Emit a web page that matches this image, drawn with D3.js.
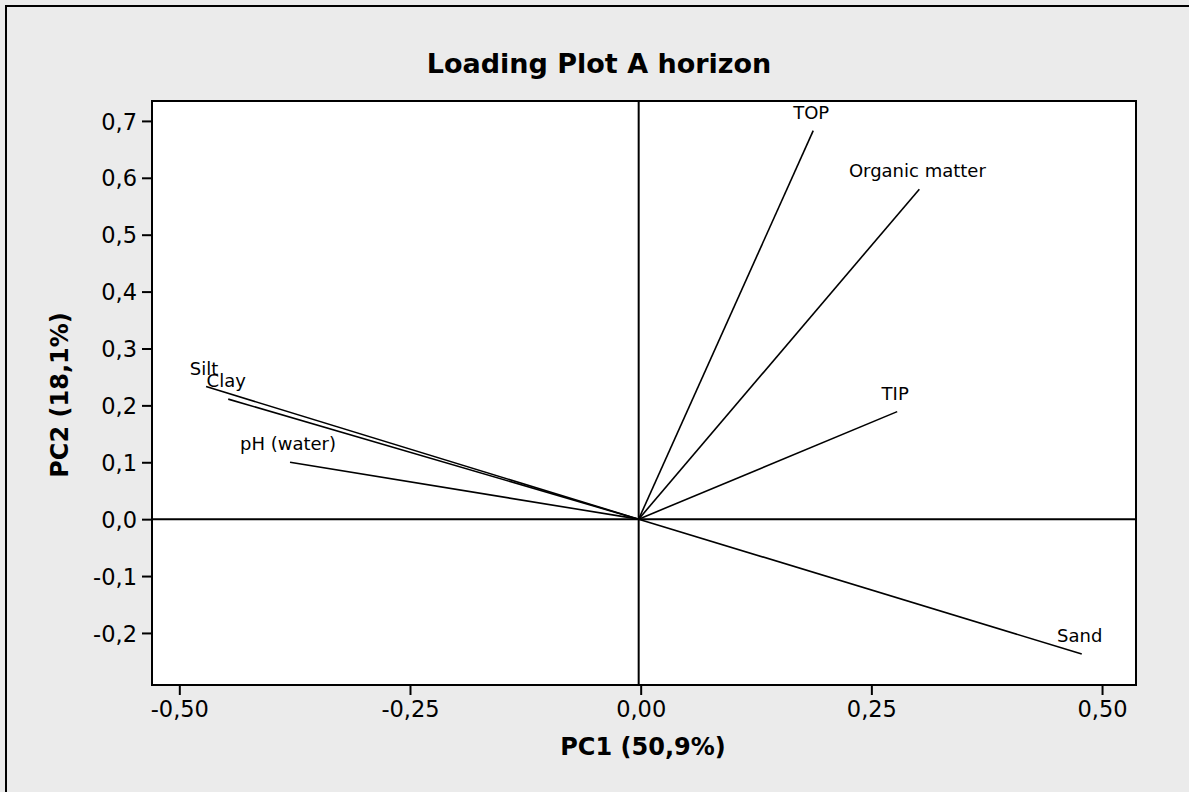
<!DOCTYPE html>
<html>
<head>
<meta charset="utf-8">
<script src="https://cdn.jsdelivr.net/npm/d3@7"></script>
<style>
  html, body { margin: 0; padding: 0; background: #ebebeb; }
  svg { display: block; }
  text { font-family: "DejaVu Sans", Verdana, sans-serif; fill: #000; }
</style>
</head>
<body>
<svg id="chart" width="1189" height="792"></svg>
<script>
// ---- data ----
const variables = ["TOP", "Organic matter", "TIP", "Sand", "Silt", "Clay", "pH (water)"];
const pc1 = [0.187, 0.302, 0.278, 0.478, -0.471, -0.447, -0.380];
const pc2 = [0.683, 0.580, 0.189, -0.237, 0.233, 0.211, 0.100];
const xTicks = [-0.50, -0.25, 0.00, 0.25, 0.50];
const yTicks = [-0.2, -0.1, 0.0, 0.1, 0.2, 0.3, 0.4, 0.5, 0.6, 0.7];
const title = "Loading Plot A horizon";
const xTitle = "PC1 (50,9%)";
const yTitle = "PC2 (18,1%)";

// ---- layout ----
const svg = d3.select("#chart");
const W = 1189, H = 792;
const plot = { left: 152, top: 101, right: 1136, bottom: 685 };

// outer frame (only left & top visible in reference)
svg.append("rect").attr("x", 6).attr("y", 6).attr("width", W + 20).attr("height", H + 20)
  .attr("fill", "#ebebeb").attr("stroke", "#000").attr("stroke-width", 2);

const x = d3.scaleLinear().domain([-0.5296, 0.5368]).range([plot.left, plot.right]);
const y = d3.scaleLinear().domain([-0.2915, 0.735]).range([plot.bottom, plot.top]);

// plot background
svg.append("rect").attr("x", plot.left).attr("y", plot.top)
  .attr("width", plot.right - plot.left).attr("height", plot.bottom - plot.top)
  .attr("fill", "#fff");

// zero reference lines
svg.append("line").attr("x1", plot.left).attr("x2", plot.right)
  .attr("y1", y(0)).attr("y2", y(0)).attr("stroke", "#000").attr("stroke-width", 2);
svg.append("line").attr("x1", x(0) - 2).attr("x2", x(0) - 2)
  .attr("y1", plot.top).attr("y2", plot.bottom).attr("stroke", "#000").attr("stroke-width", 2);

// loading vectors
const data = variables.map((v, i) => ({ name: v, a: pc1[i], b: pc2[i] }));
svg.append("g").selectAll("line").data(data).join("line")
  .attr("x1", x(0) - 2).attr("y1", y(0))
  .attr("x2", d => x(d.a)).attr("y2", d => y(d.b))
  .attr("stroke", "#000").attr("stroke-width", 1.6);

svg.append("g").selectAll("text").data(data).join("text")
  .attr("x", d => x(d.a) - 2).attr("y", d => y(d.b) - 12)
  .attr("text-anchor", "middle").attr("font-size", 18)
  .text(d => d.name);

// axes
const fmtX = d => d.toFixed(2).replace(".", ",");
const fmtY = d => d.toFixed(1).replace(".", ",");

const gx = svg.append("g").attr("transform", `translate(0,${plot.bottom})`)
  .call(d3.axisBottom(x).tickValues(xTicks).tickFormat(fmtX).tickSize(10).tickPadding(6));
const gy = svg.append("g").attr("transform", `translate(${plot.left},0)`)
  .call(d3.axisLeft(y).tickValues(yTicks).tickFormat(fmtY).tickSize(10).tickPadding(5));
[gx, gy].forEach(g => {
  g.select(".domain").remove();
  g.selectAll(".tick line").attr("stroke", "#000").attr("stroke-width", 2);
  g.selectAll(".tick text").attr("font-size", 22.5)
    .attr("font-family", "DejaVu Sans, Verdana, sans-serif").attr("fill", "#000");
});
gy.selectAll(".tick text").attr("dy", "0.36em");

// plot frame
svg.append("rect").attr("x", plot.left).attr("y", plot.top)
  .attr("width", plot.right - plot.left).attr("height", plot.bottom - plot.top)
  .attr("fill", "none").attr("stroke", "#000").attr("stroke-width", 2);

// titles
svg.append("text").attr("x", 599).attr("y", 73).attr("text-anchor", "middle")
  .attr("font-size", 27).attr("font-weight", "bold").text(title);
svg.append("text").attr("x", 643).attr("y", 755).attr("text-anchor", "middle")
  .attr("font-size", 24).attr("font-weight", "bold").text(xTitle);
svg.append("text").attr("transform", `translate(68,395) rotate(-90)`).attr("text-anchor", "middle")
  .attr("font-size", 24).attr("font-weight", "bold").text(yTitle);
</script>
</body>
</html>
